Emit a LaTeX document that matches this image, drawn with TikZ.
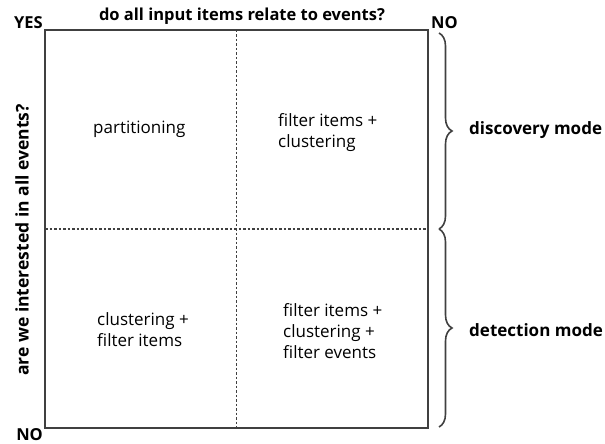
\documentclass[tikz,border=0pt]{standalone}
\usepackage{fontspec}
\setmainfont{Open Sans}
\usetikzlibrary{decorations.pathreplacing,positioning}

\tikzset{
  frame/.style={draw=black!75, line width=2pt},
  split/.style={draw=black!75, line width=1.5pt, dash pattern=on 2.5pt off 2pt},
  axis/.style={font=\bfseries\fontsize{16.5}{19}\selectfont, inner sep=0pt},
  cell/.style={font=\fontsize{17}{21}\selectfont, align=left, inner sep=0pt, anchor=west},
  modebrace/.style={decorate, decoration={brace, amplitude=13pt}, draw=black!75, line width=1.6pt},
}

\begin{document}
\begin{tikzpicture}[x=1pt,y=-1pt]
  \useasboundingbox (0,0) rectangle (605,444);

  % corners and midpoints of the quadrant box
  \coordinate (tl) at (45,30);
  \coordinate (br) at (428,428);
  \coordinate (tc) at (236.5,30);
  \coordinate (bc) at (236.5,428);
  \coordinate (ml) at (45,229);
  \coordinate (mr) at (428,229);

  \draw[split] (tc) -- (bc);
  \draw[split] (ml) -- (mr);
  \draw[frame] (tl) rectangle (br);

  % axis questions
  \node[axis] (qtop) at (242,16) {do all input items relate to events?};
  \node[axis, rotate=90, font=\bfseries\fontsize{17.5}{20}\selectfont] (qleft) at (22,240) {are we interested in all events?};
  \node[axis, anchor=east] (yes) at (43,23) {YES};
  \node[axis, anchor=west] (notop) at (431,23) {NO};
  \node[axis, anchor=east] (nobot) at (43,435) {NO};

  % quadrants
  \node[cell] (part) at (93,129) {partitioning};
  \node[cell] (filclu) at (278,133) {filter items +\\clustering};
  \node[cell] (clufil) at (97,330) {clustering +\\filter items};
  \node[cell] (filall) at (283,331) {filter items +\\clustering +\\filter events};

  % modes
  \coordinate (bt) at (439,33);
  \coordinate (bm) at (439,229);
  \coordinate (bb) at (439,427);
  \draw[modebrace] (bt) -- (bm);
  \draw[modebrace] (bm) -- (bb);
  \node[axis, anchor=west, font=\bfseries\fontsize{17}{20}\selectfont] (disc) at (469,130) {discovery mode};
  \node[axis, anchor=west, font=\bfseries\fontsize{17}{20}\selectfont] (detc) at (469,330) {detection mode};
\end{tikzpicture}
\end{document}
